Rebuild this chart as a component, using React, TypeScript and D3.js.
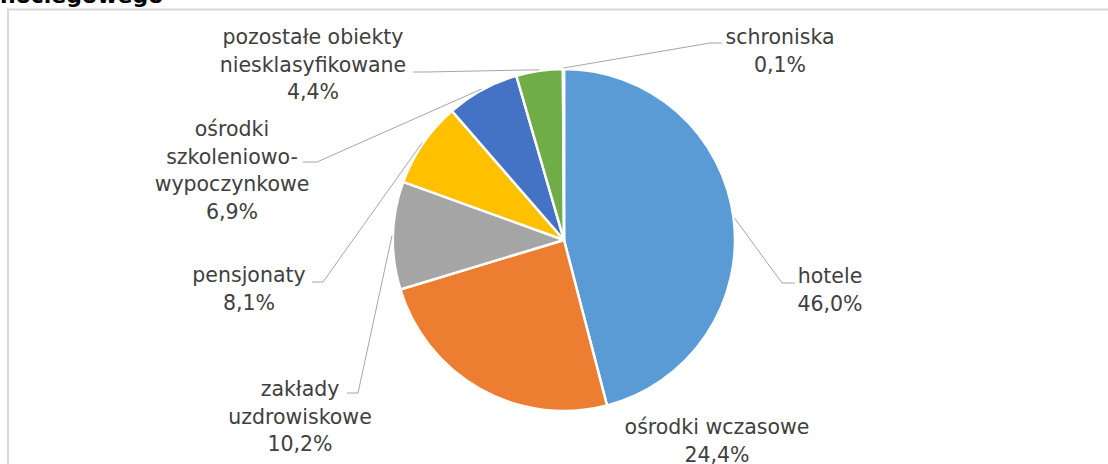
import React from 'react';
import * as d3 from 'd3';

const categories = [
  'hotele',
  'ośrodki wczasowe',
  'zakłady uzdrowiskowe',
  'pensjonaty',
  'ośrodki szkoleniowo-wypoczynkowe',
  'pozostałe obiekty niesklasyfikowane',
  'schroniska',
];
const values = [46.0, 24.4, 10.2, 8.1, 6.9, 4.4, 0.1];
const labelLines = [
  ['hotele'],
  ['ośrodki wczasowe'],
  ['zakłady', 'uzdrowiskowe'],
  ['pensjonaty'],
  ['ośrodki', 'szkoleniowo-', 'wypoczynkowe'],
  ['pozostałe obiekty', 'niesklasyfikowane'],
  ['schroniska'],
];
const colors = ['#5B9BD5', '#ED7D31', '#A5A5A5', '#FFC000', '#4472C4', '#70AD47', '#255E91'];

// label placement (layout only): text centre, first line centre, leader elbow & end
const labelLayout = [
  { cx: 830, cy: 276, elbow: [782, 283], end: [795, 283] },
  { cx: 717, cy: 427, elbow: null, end: null },
  { cx: 300, cy: 389, elbow: [358, 393], end: [347, 393] },
  { cx: 249, cy: 275, elbow: [323, 282], end: [312, 282] },
  { cx: 232, cy: 129, elbow: [317, 162], end: [303, 162] },
  { cx: 313, cy: 37, elbow: [425, 72], end: [413, 72] },
  { cx: 780, cy: 37, elbow: [710, 43], end: [722, 43] },
];

const W = 1108;
const H = 464;
const cx = 564;
const cy = 240;
const r = 171;
const lineH = 27.5;
const font = '"DejaVu Sans", Verdana, sans-serif';

const pl = d3.formatLocale({ decimal: ',', thousands: ' ', grouping: [3], currency: ['', ' zł'] });
const fmt = pl.format('.1f');

export default function App() {
  const pie = d3.pie<number>().sort(null).value(d => d)(values);
  const arc = d3.arc<d3.PieArcDatum<number>>().innerRadius(0).outerRadius(r);

  return (
    <div style={{ position: 'absolute', left: 0, top: 0 }}>
      <svg width={W} height={H} style={{ display: 'block', background: '#fff' }}>
        <rect x={8} y={9.5} width={W + 20} height={H + 20} fill="#fff" stroke="#D9D9D9" strokeWidth={2} />
        <text x={0} y={3} fontFamily={font} fontWeight="bold" fontSize={22} fill="#000">
          noclegowego
        </text>
        <g transform={`translate(${cx},${cy})`}>
          {pie.map((p, i) => (
            <path key={categories[i]} d={arc(p) || ''} fill={colors[i]} stroke="#fff" strokeWidth={2.5} strokeLinejoin="round" />
          ))}
        </g>
        {pie.map((p, i) => {
          const lay = labelLayout[i];
          if (!lay.elbow || !lay.end) return null;
          const a = (p.startAngle + p.endAngle) / 2;
          const px = cx + (r + 1) * Math.sin(a);
          const py = cy - (r + 1) * Math.cos(a);
          const pts: [number, number][] = [[px, py], lay.elbow as [number, number], lay.end as [number, number]];
          return (
            <path key={'l' + i} d={d3.line()(pts) || ''} fill="none" stroke="#A6A6A6" strokeWidth={1} />
          );
        })}
        {labelLayout.map((lay, i) => {
          const lines = [...labelLines[i], fmt(values[i]) + '%'];
          return (
            <text key={'t' + i} fontFamily={font} fontSize={20.5} fill="#404040" textAnchor="middle">
              {lines.map((ln, j) => (
                <tspan key={j} x={lay.cx} y={lay.cy + j * lineH + 7}>
                  {ln}
                </tspan>
              ))}
            </text>
          );
        })}
      </svg>
    </div>
  );
}
